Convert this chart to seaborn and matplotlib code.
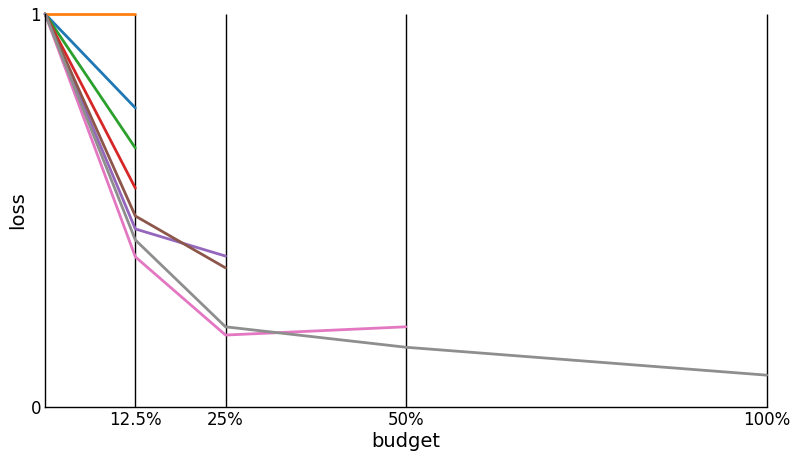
import matplotlib.pyplot as plt
import pandas as pd
import seaborn as sns

# budget (%) at which each run was evaluated, and the resulting loss
budgets = [0, 12.5, 25, 50, 100]
run_budgets = {
    "run 1": [0, 12.5],
    "run 2": [0, 12.5],
    "run 3": [0, 12.5],
    "run 4": [0, 12.5],
    "run 5": [0, 12.5, 25],
    "run 6": [0, 12.5, 25],
    "run 7": [0, 12.5, 25, 50],
    "run 8": [0, 12.5, 25, 50, 100],
}
run_losses = {
    "run 1": [1.0, 0.761],
    "run 2": [1.0, 1.0],
    "run 3": [1.0, 0.659],
    "run 4": [1.0, 0.557],
    "run 5": [1.0, 0.453, 0.384],
    "run 6": [1.0, 0.486, 0.354],
    "run 7": [1.0, 0.382, 0.183, 0.204],
    "run 8": [1.0, 0.425, 0.204, 0.152, 0.081],
}
tick_labels = ["12.5%", "25%", "50%", "100%"]

rows = []
for name in run_budgets:
    for b, l in zip(run_budgets[name], run_losses[name]):
        rows.append({"run": name, "budget": b, "loss": l})
df = pd.DataFrame(rows)

sns.set_style("white")
plt.rcParams["text.color"] = "black"
plt.rcParams["axes.labelcolor"] = "black"
plt.rcParams["xtick.color"] = "black"
plt.rcParams["ytick.color"] = "black"

fig = plt.figure(figsize=(7.92, 4.51), dpi=100)
ax = fig.add_axes([0.057, 0.0976, 0.911, 0.8714])

palette = sns.color_palette("tab10", 8)
palette[7] = "#8e8e8e"
sns.lineplot(data=df, x="budget", y="loss", hue="run",
             palette=palette, linewidth=2,
             legend=False, ax=ax, clip_on=False)

ax.vlines(budgets[1:], 0, 1, color="black", linewidth=1, zorder=0,
          clip_on=False)

ax.set_xlim(0, 100)
ax.set_ylim(0, 1)
ax.set_xticks(budgets[1:])
ax.set_xticklabels(tick_labels)
ax.set_yticks([0, 1])
ax.set_yticklabels(["0", "1"])
ax.tick_params(axis="both", length=0, labelsize=12, pad=3)
ax.set_xlabel("budget", fontsize=14, labelpad=2)
ax.set_ylabel("loss", fontsize=14, labelpad=2)
for s in ["top", "right"]:
    ax.spines[s].set_visible(False)
for s in ["left", "bottom"]:
    ax.spines[s].set_color("black")
    ax.spines[s].set_linewidth(1)

fig.savefig("out.png", dpi=100)
